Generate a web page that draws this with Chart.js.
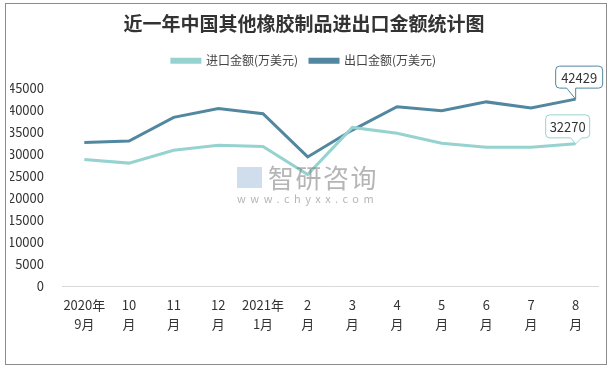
<!DOCTYPE html>
<html>
<head>
<meta charset="utf-8">
<script src="https://cdn.jsdelivr.net/npm/chart.js@4/dist/chart.umd.min.js"></script>
<style>
  html, body { margin: 0; padding: 0; background: #fff; }
  #wrap { position: relative; width: 615px; height: 370px; }
  #frame { position: absolute; left: 5px; top: 3px; width: 602px; height: 362px; border: 1px solid #8c8c8c; box-sizing: border-box; pointer-events: none; }
  #wm { position: absolute; left: 237px; top: 163px; width: 160px; text-align: left; pointer-events: none; font-family: "Noto Sans CJK SC", sans-serif; }
  #wm .big { font-size: 26px; color: rgba(120,120,120,0.55); letter-spacing: 1.5px; padding-left: 31px; line-height: 28px; }
  #wm .small { font-size: 11px; color: rgba(120,120,120,0.55); letter-spacing: 4.5px; line-height: 14px; }
  #wm .logo { position: absolute; left: 0; top: 4px; width: 25px; height: 21px; background: rgba(150,180,215,0.45); }
</style>
</head>
<body>
<div id="wrap">
  <canvas id="lineChart" width="615" height="370"></canvas>
  <div id="wm"><div class="logo"></div><div class="big">智研咨询</div><div class="small">www.chyxx.com</div></div>
  <div id="frame"></div>
</div>
<script>
const xLabels = [
  ["2020年", "9月"], ["10", "月"], ["11", "月"], ["12", "月"], ["2021年", "1月"],
  ["2", "月"], ["3", "月"], ["4", "月"], ["5", "月"], ["6", "月"], ["7", "月"], ["8", "月"]
];
const importValues = [28700, 27900, 30800, 31950, 31700, 25300, 36000, 34700, 32400, 31500, 31500, 32270];
const exportValues = [32600, 32900, 38300, 40300, 39100, 29300, 35400, 40700, 39800, 41800, 40400, 42429];
const seriesNames = ["进口金额(万美元)", "出口金额(万美元)"];
const yTicks = [0, 5000, 10000, 15000, 20000, 25000, 30000, 35000, 40000, 45000];

const lightColor = "#96d3d0";
const darkColor = "#51879f";
const fontFam = "'Noto Sans CJK SC', 'Microsoft YaHei', sans-serif";

// a bit of extra room under the legend
const legendGap = {
  id: "legendGap",
  afterInit(chart) {
    const origFit = chart.legend.fit;
    chart.legend.fit = function () {
      origFit.call(this);
      this.height += 11;
    };
  }
};

// callout boxes for the last point of each line
const calloutPlugin = {
  id: "callout",
  afterDatasetsDraw(chart) {
    const ctx = chart.ctx;
    const specs = [
      { ds: 1, l: -20, r: 27, t: -33, b: -11, p1: -9, p2: 0 },
      { ds: 0, l: -30, r: 14, t: -29, b: -6, p1: -5, p2: 6 }
    ];
    specs.forEach(function (s) {
      const meta = chart.getDatasetMeta(s.ds);
      const last = meta.data.length - 1;
      const pt = meta.data[last];
      const px = pt.x, py = pt.y;
      const x0 = px + s.l, x1 = px + s.r, y0 = py + s.t, y1 = py + s.b;
      const rad = 4;
      const color = chart.data.datasets[s.ds].borderColor;
      ctx.save();
      ctx.beginPath();
      ctx.moveTo(x0 + rad, y0);
      ctx.lineTo(x1 - rad, y0);
      ctx.quadraticCurveTo(x1, y0, x1, y0 + rad);
      ctx.lineTo(x1, y1 - rad);
      ctx.quadraticCurveTo(x1, y1, x1 - rad, y1);
      ctx.lineTo(px + s.p2, y1);
      ctx.lineTo(px, py);
      ctx.lineTo(px + s.p1, y1);
      ctx.lineTo(x0 + rad, y1);
      ctx.quadraticCurveTo(x0, y1, x0, y1 - rad);
      ctx.lineTo(x0, y0 + rad);
      ctx.quadraticCurveTo(x0, y0, x0 + rad, y0);
      ctx.closePath();
      ctx.fillStyle = "#fff";
      ctx.fill();
      ctx.lineWidth = 1;
      ctx.strokeStyle = color;
      ctx.stroke();
      ctx.fillStyle = "#333";
      ctx.font = "13px " + fontFam;
      ctx.textAlign = "center";
      ctx.textBaseline = "middle";
      const v = chart.data.datasets[s.ds].data[last];
      ctx.fillText(String(v), (x0 + x1) / 2, (y0 + y1) / 2 + 1);
      ctx.restore();
    });
  }
};

const ctxLine = document.getElementById("lineChart").getContext("2d");
const lineChart = new Chart(ctxLine, {
  type: "line",
  data: {
    labels: xLabels,
    datasets: [
      {
        label: seriesNames[0],
        data: importValues,
        borderColor: lightColor,
        backgroundColor: lightColor,
        borderWidth: 3,
        pointRadius: 0,
        tension: 0
      },
      {
        label: seriesNames[1],
        data: exportValues,
        borderColor: darkColor,
        backgroundColor: darkColor,
        borderWidth: 3,
        pointRadius: 0,
        tension: 0
      }
    ]
  },
  options: {
    responsive: false,
    animation: false,
    devicePixelRatio: 1,
    layout: { padding: { left: 10, right: 17, top: 8, bottom: 27 } },
    plugins: {
      title: {
        display: true,
        text: "近一年中国其他橡胶制品进出口金额统计图",
        color: "#333",
        font: { family: fontFam, size: 19, weight: "bold" },
        padding: { top: 4, bottom: 8 }
      },
      legend: {
        display: true,
        labels: {
          boxWidth: 28,
          boxHeight: 3,
          color: "#444",
          font: { family: fontFam, size: 12 },
          padding: 12
        }
      },
      tooltip: { enabled: false }
    },
    scales: {
      x: {
        offset: true,
        grid: { display: false, drawTicks: false },
        border: { display: true, color: "#d9d9d9", width: 1 },
        ticks: {
          color: "#333",
          font: { family: fontFam, size: 13, lineHeight: 1.5 },
          padding: 9,
          maxRotation: 0,
          autoSkip: false
        }
      },
      y: {
        min: 0,
        max: 45000,
        afterBuildTicks(scale) {
          scale.ticks = yTicks.map(function (v) { return { value: v }; });
        },
        afterFit(scale) { scale.width = 52; },
        grid: { display: false, drawTicks: false },
        border: { display: false },
        ticks: {
          color: "#333",
          font: { family: fontFam, size: 13 },
          padding: 18,
          callback: function (v) { return String(v); }
        }
      }
    }
  },
  plugins: [legendGap, calloutPlugin]
});
</script>
</body>
</html>
